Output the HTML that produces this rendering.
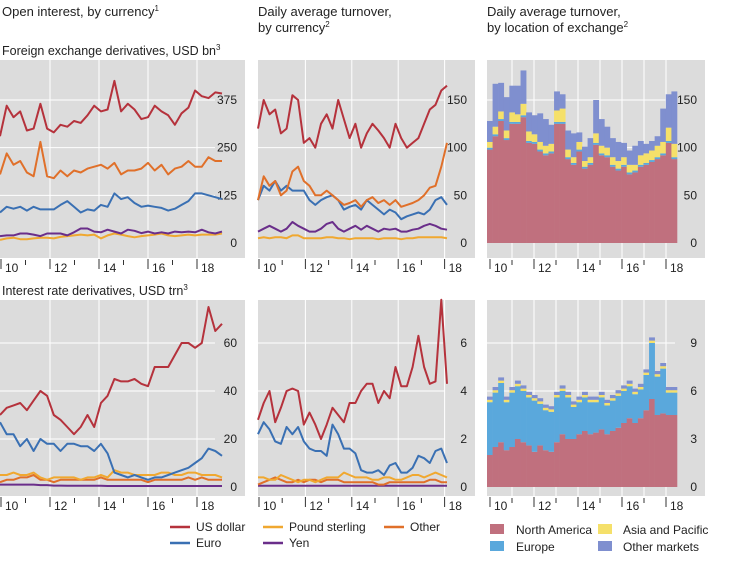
<!DOCTYPE html>
<html><head><meta charset="utf-8"><style>
body{margin:0;background:#fff;width:729px;height:560px;overflow:hidden;font-family:"Liberation Sans",sans-serif;}
svg text{font-family:"Liberation Sans",sans-serif;fill:#222;}
</style></head><body>
<svg id="c" width="729" height="560" xmlns="http://www.w3.org/2000/svg">
<text x="2" y="16" font-size="13">Open interest, by currency<tspan font-size="8" dy="-5">1</tspan></text>
<text x="258" y="16" font-size="13">Daily average turnover,</text>
<text x="258" y="32" font-size="13">by currency<tspan font-size="8" dy="-5">2</tspan></text>
<text x="487" y="16" font-size="13">Daily average turnover,</text>
<text x="487" y="32" font-size="13">by location of exchange<tspan font-size="8" dy="-5">2</tspan></text>
<text x="2" y="55" font-size="12.5">Foreign exchange derivatives, USD bn<tspan font-size="8" dy="-5">3</tspan></text>
<text x="2" y="295" font-size="12.5">Interest rate derivatives, USD trn<tspan font-size="8" dy="-5">3</tspan></text>
<g id="legend1">
<line x1="170" y1="527" x2="190" y2="527" stroke="#b5323c" stroke-width="2.5"/><text x="196" y="531" font-size="12">US dollar</text>
<line x1="263" y1="527" x2="283" y2="527" stroke="#f0a830" stroke-width="2.5"/><text x="289" y="531" font-size="12">Pound sterling</text>
<line x1="384" y1="527" x2="404" y2="527" stroke="#e0702a" stroke-width="2.5"/><text x="410" y="531" font-size="12">Other</text>
<line x1="170" y1="543" x2="190" y2="543" stroke="#3a70b3" stroke-width="2.5"/><text x="196" y="547" font-size="12">Euro</text>
<line x1="263" y1="543" x2="283" y2="543" stroke="#6a2e8a" stroke-width="2.5"/><text x="289" y="547" font-size="12">Yen</text>
</g>
<g id="legend2">
<rect x="490" y="524" width="14" height="10" fill="#c0707e"/><text x="516" y="534" font-size="12">North America</text>
<rect x="598" y="524" width="14" height="10" fill="#f5e06a"/><text x="623" y="534" font-size="12">Asia and Pacific</text>
<rect x="490" y="541" width="14" height="10" fill="#5aa8dc"/><text x="516" y="551" font-size="12">Europe</text>
<rect x="598" y="541" width="14" height="10" fill="#7f8fcf"/><text x="623" y="551" font-size="12">Other markets</text>
</g>
</svg>
<script>
const categories=["2010Q1","…","2018Q2"];
const fxOiUsd=[280,360,330,345,295,300,365,300,290,310,305,320,315,335,360,345,350,425,345,365,350,325,330,360,345,335,310,340,355,400,385,380,395,392];
const fxOiOther=[180,235,205,215,185,175,265,175,170,190,175,190,185,195,200,205,195,210,180,190,190,195,210,190,205,180,195,200,215,200,200,225,215,215];
const fxOiEuro=[80,95,90,95,85,95,88,88,88,100,110,95,80,88,85,100,95,130,115,120,105,95,98,95,92,85,90,100,110,130,130,125,120,115];
const fxOiYen=[18,20,20,25,25,22,18,25,25,25,20,28,38,38,30,28,35,30,25,35,32,26,30,25,28,25,30,28,30,28,35,28,25,30];
const fxOiGbp=[8,12,14,10,10,12,14,14,12,16,18,20,22,20,22,12,20,25,22,18,15,18,20,22,25,20,18,20,22,20,22,22,22,25];
const fxToUsd=[120,150,135,140,115,120,155,150,105,110,100,125,135,120,150,130,110,125,100,115,125,118,110,100,125,110,100,105,110,125,140,145,160,165];
const fxToOther=[45,70,60,65,50,55,75,80,65,60,50,50,55,50,45,40,42,45,38,45,48,42,45,40,45,38,40,42,45,50,58,60,80,105];
const fxToEuro=[45,60,55,65,55,60,55,55,55,45,40,45,48,50,45,35,38,40,35,45,40,35,30,35,32,25,28,30,32,30,35,45,48,40];
const fxToYen=[12,15,18,15,12,15,22,18,15,12,12,15,20,22,15,12,15,18,14,18,15,12,15,14,15,12,12,14,15,18,20,18,15,14];
const fxToGbp=[5,6,5,6,6,5,8,8,5,5,5,5,6,6,5,5,4,5,5,5,5,4,5,5,5,4,5,5,6,6,6,6,6,5];
const fxLocNa=[98,112,128,108,125,125,132,105,104,96,92,94,125,125,88,82,96,78,82,103,92,90,80,76,80,72,74,80,82,85,88,92,105,88];
const fxLocEu=[2,2,2,2,2,2,2,2,2,2,2,2,2,2,2,2,2,2,2,2,2,2,2,2,2,2,2,2,2,2,2,2,2,2];
const fxLocAsia=[6,8,8,8,10,8,12,10,8,8,8,8,12,14,8,6,8,6,6,10,8,8,8,8,8,8,6,10,10,10,12,12,14,14];
const fxLocOther=[22,45,30,35,28,30,35,20,20,30,28,20,20,15,20,25,10,15,20,35,28,22,20,20,15,15,20,15,10,10,10,35,35,55];
const irOiUsd=[30,33,34,35,32,36,40,38,30,28,25,22,25,30,25,35,38,45,44,44,45,43,42,50,50,50,55,60,60,58,60,75,65,68];
const irOiEuro=[27,22,22,17,20,15,20,18,18,15,18,18,17,17,15,18,14,6,5,4,5,4,3,4,4,5,6,7,8,10,12,16,15,13];
const irOiGbp=[5,5,6,5,5,6,4,3,4,4,4,4,3,4,4,5,4,7,6,6,5,5,5,5,6,6,5,5,6,6,5,5,5,4];
const irOiOther=[2,3,3,4,4,5,3,3,2,3,3,3,3,3,3,4,3,3,3,3,3,3,2,3,3,3,3,3,4,3,4,3,3,3];
const irOiYen=[1,1,1,1,1,1,0.8,0.8,0.6,0.6,0.5,0.5,0.5,0.5,0.5,0.5,0.4,0.4,0.4,0.4,0.4,0.4,0.4,0.4,0.4,0.4,0.4,0.4,0.4,0.4,0.4,0.4,0.4,0.4];
const irToUsd=[2.8,3.5,4,2.7,3.3,4,4.1,4,2.6,3.1,2.6,2.0,2.6,3.3,3,2.7,3.5,3.5,4,4.3,4.3,3.5,4,3.7,5,4.2,4.2,5,6.3,5,4.3,4.4,7.8,4.3];
const irToEuro=[2.2,2.7,2.4,1.9,1.8,2.5,2.2,2.5,1.9,1.6,1.5,1.5,1.3,2.6,2.2,1.6,1.6,1.4,0.7,0.6,0.6,0.7,0.5,0.9,1.0,0.6,0.6,0.8,1.3,1.2,1.0,1.5,1.6,1.0];
const irToGbp=[0.4,0.4,0.3,0.3,0.5,0.4,0.3,0.2,0.3,0.3,0.2,0.3,0.4,0.4,0.4,0.6,0.5,0.4,0.4,0.4,0.3,0.3,0.4,0.4,0.3,0.3,0.4,0.5,0.5,0.4,0.5,0.6,0.5,0.4];
const irToOther=[0.1,0.2,0.3,0.4,0.3,0.2,0.2,0.3,0.2,0.3,0.3,0.2,0.3,0.3,0.3,0.2,0.2,0.2,0.2,0.2,0.2,0.1,0.1,0.2,0.2,0.2,0.2,0.2,0.2,0.2,0.3,0.3,0.2,0.2];
const irToYen=[0.05,0.05,0.05,0.05,0.05,0.05,0.05,0.05,0.05,0.05,0.05,0.05,0.05,0.05,0.05,0.05,0.05,0.05,0.05,0.05,0.05,0.05,0.05,0.05,0.05,0.05,0.05,0.05,0.05,0.05,0.05,0.05,0.05,0.05];
const irLocNa=[2,2.5,2.8,2.3,2.5,3,2.8,2.6,2.2,2.6,2.3,2.2,2.8,3.3,3,3,3.3,3.5,3.3,3.4,3.6,3.3,3.5,3.7,4,4.3,4,4.3,4.8,5.5,4.5,4.6,4.5,4.5];
const irLocEu=[3.3,3.4,3.7,3.0,3.4,3.3,3.2,3.0,3.2,2.6,2.5,2.5,2.8,2.7,2.6,2.0,2.0,2.1,2.0,1.9,2.0,1.8,1.9,2.0,2.0,2.0,1.8,1.8,2.2,3.5,2.4,2.8,1.4,1.4];
const irLocAsia=[0.15,0.15,0.15,0.15,0.15,0.15,0.15,0.15,0.15,0.15,0.15,0.15,0.15,0.15,0.15,0.15,0.15,0.15,0.15,0.15,0.15,0.15,0.15,0.15,0.15,0.15,0.15,0.15,0.15,0.15,0.15,0.15,0.15,0.15];
const irLocOther=[0.2,0.2,0.2,0.2,0.2,0.2,0.2,0.2,0.2,0.2,0.2,0.2,0.2,0.2,0.2,0.2,0.2,0.2,0.2,0.2,0.2,0.2,0.2,0.2,0.2,0.2,0.2,0.2,0.2,0.2,0.2,0.2,0.2,0.2];
const yearLabels=["10","12","14","16","18"];
const fxOiTicks=[0,125,250,375];
const fxToTicks=[0,50,100,150];
const irOiTicks=[0,20,40,60];
const irToTicks=[0,2,4,6];
const irLocTicks=[0,3,6,9];

const svg=document.getElementById('c');
const NS='http://www.w3.org/2000/svg';
function mk(tag,attrs,parent){const e=document.createElementNS(NS,tag);for(const k in attrs)e.setAttribute(k,attrs[k]);(parent||svg).appendChild(e);return e;}
const COL={usd:'#b5323c',euro:'#3a70b3',gbp:'#f0a830',other:'#e0702a',yen:'#6a2e8a',na:'#c0707e',eu:'#5aa8dc',asia:'#f5e06a',om:'#7f8fcf'};

function panel(name,gx0,gx1,gy0,gy1,dx0,dx1,y0px,yTopPx,yTopVal,ticks,yearX0,yearStep,everyYear){
  const g=mk('g',{});
  
  
  const bg=mk('rect',{x:gx0,y:gy0,width:gx1-gx0,height:gy1-gy0,fill:'#dcdcdc'},g);
  
  
  const ys=v=>y0px-(v/yTopVal)*(y0px-yTopPx);
  ticks.forEach(t=>{
    if(t>0){const l=mk('line',{x1:gx0,x2:gx1-30,y1:ys(t),y2:ys(t),stroke:'#fff','stroke-width':1},g);
    
    }
    const tx=mk('text',{x:gx1-8,y:ys(t)+4,'font-size':12,'text-anchor':'end'},g);tx.textContent=t;
    
    
  });
  for(let k=0;k<=8;k++){
    const x=yearX0+k*yearStep;
    if(k>0&&(everyYear||k%2==0)){const l=mk('line',{x1:x,x2:x,y1:gy0,y2:gy1,stroke:'#fff','stroke-width':1},g);
    
    }
    const tk=mk('line',{x1:x,x2:x,y1:gy1+(k%2?2:1),y2:gy1+(k%2?7:11),stroke:'#333','stroke-width':1},g);
    
    
    if(k%2==0){const tx=mk('text',{x:x+4,y:gy1+14,'font-size':12},g);tx.textContent=yearLabels[k/2];
    
    }
  }
  return {g,ys,xs:i=>dx0+i*(dx1-dx0)/33,bw:(dx1-dx0)/34,dx0};
}
function line(p,arr,col,name){
  const d=arr.map((v,i)=>(i?'L':'M')+p.xs(i).toFixed(1)+','+p.ys(v).toFixed(1)).join('');
  const e=mk('path',{d:d,fill:'none',stroke:col,'stroke-width':2,'stroke-linejoin':'round'},p.g);
  
  
}
function bars(p,series,cols,names){
  for(let i=0;i<series[0].length;i++){
    let acc=0;
    series.forEach((s,j)=>{
      const y1=p.ys(acc),y2=p.ys(acc+s[i]);acc+=s[i];
      const r=mk('rect',{x:p.dx0+i*p.bw,y:y2,width:p.bw+0.3,height:Math.max(0,y1-y2),fill:cols[j]},p.g);
      
      
    });
  }
}
// top row
let p1=panel('fx-open-interest-panel',0,245,60,258,0,222,243,100,375,fxOiTicks,1,24.5,false);
line(p1,fxOiGbp,COL.gbp,'gbp-line');line(p1,fxOiYen,COL.yen,'yen-line');line(p1,fxOiEuro,COL.euro,'euro-line');line(p1,fxOiOther,COL.other,'other-line');line(p1,fxOiUsd,COL.usd,'usd-line');
let p2=panel('fx-turnover-currency-panel',258,475,60,258,258,447,243,100,150,fxToTicks,259,23.2,false);
line(p2,fxToGbp,COL.gbp,'gbp-line');line(p2,fxToYen,COL.yen,'yen-line');line(p2,fxToEuro,COL.euro,'euro-line');line(p2,fxToOther,COL.other,'other-line');line(p2,fxToUsd,COL.usd,'usd-line');
let p3=panel('fx-turnover-location-panel',487,705,60,258,487,672,243,100,150,fxToTicks,490,22,true);
p3.bw=(677-487)/34;
bars(p3,[fxLocNa,fxLocEu,fxLocAsia,fxLocOther],[COL.na,COL.eu,COL.asia,COL.om],['north-america','europe','asia-pacific','other-markets']);
// bottom row
let p4=panel('ir-open-interest-panel',0,245,300,496,0,222,487,343,60,irOiTicks,1,24.5,false);
line(p4,irOiYen,COL.yen,'yen-line');line(p4,irOiOther,COL.other,'other-line');line(p4,irOiGbp,COL.gbp,'gbp-line');line(p4,irOiEuro,COL.euro,'euro-line');line(p4,irOiUsd,COL.usd,'usd-line');
let p5=panel('ir-turnover-currency-panel',258,475,300,496,258,447,487,343,6,irToTicks,259,23.2,false);
line(p5,irToYen,COL.yen,'yen-line');line(p5,irToOther,COL.other,'other-line');line(p5,irToGbp,COL.gbp,'gbp-line');line(p5,irToEuro,COL.euro,'euro-line');line(p5,irToUsd,COL.usd,'usd-line');
let p6=panel('ir-turnover-location-panel',487,705,300,496,487,672,487,343,9,irLocTicks,490,22,true);
p6.bw=(677-487)/34;
bars(p6,[irLocNa,irLocEu,irLocAsia,irLocOther],[COL.na,COL.eu,COL.asia,COL.om],['north-america','europe','asia-pacific','other-markets']);
</script>
</body></html>
